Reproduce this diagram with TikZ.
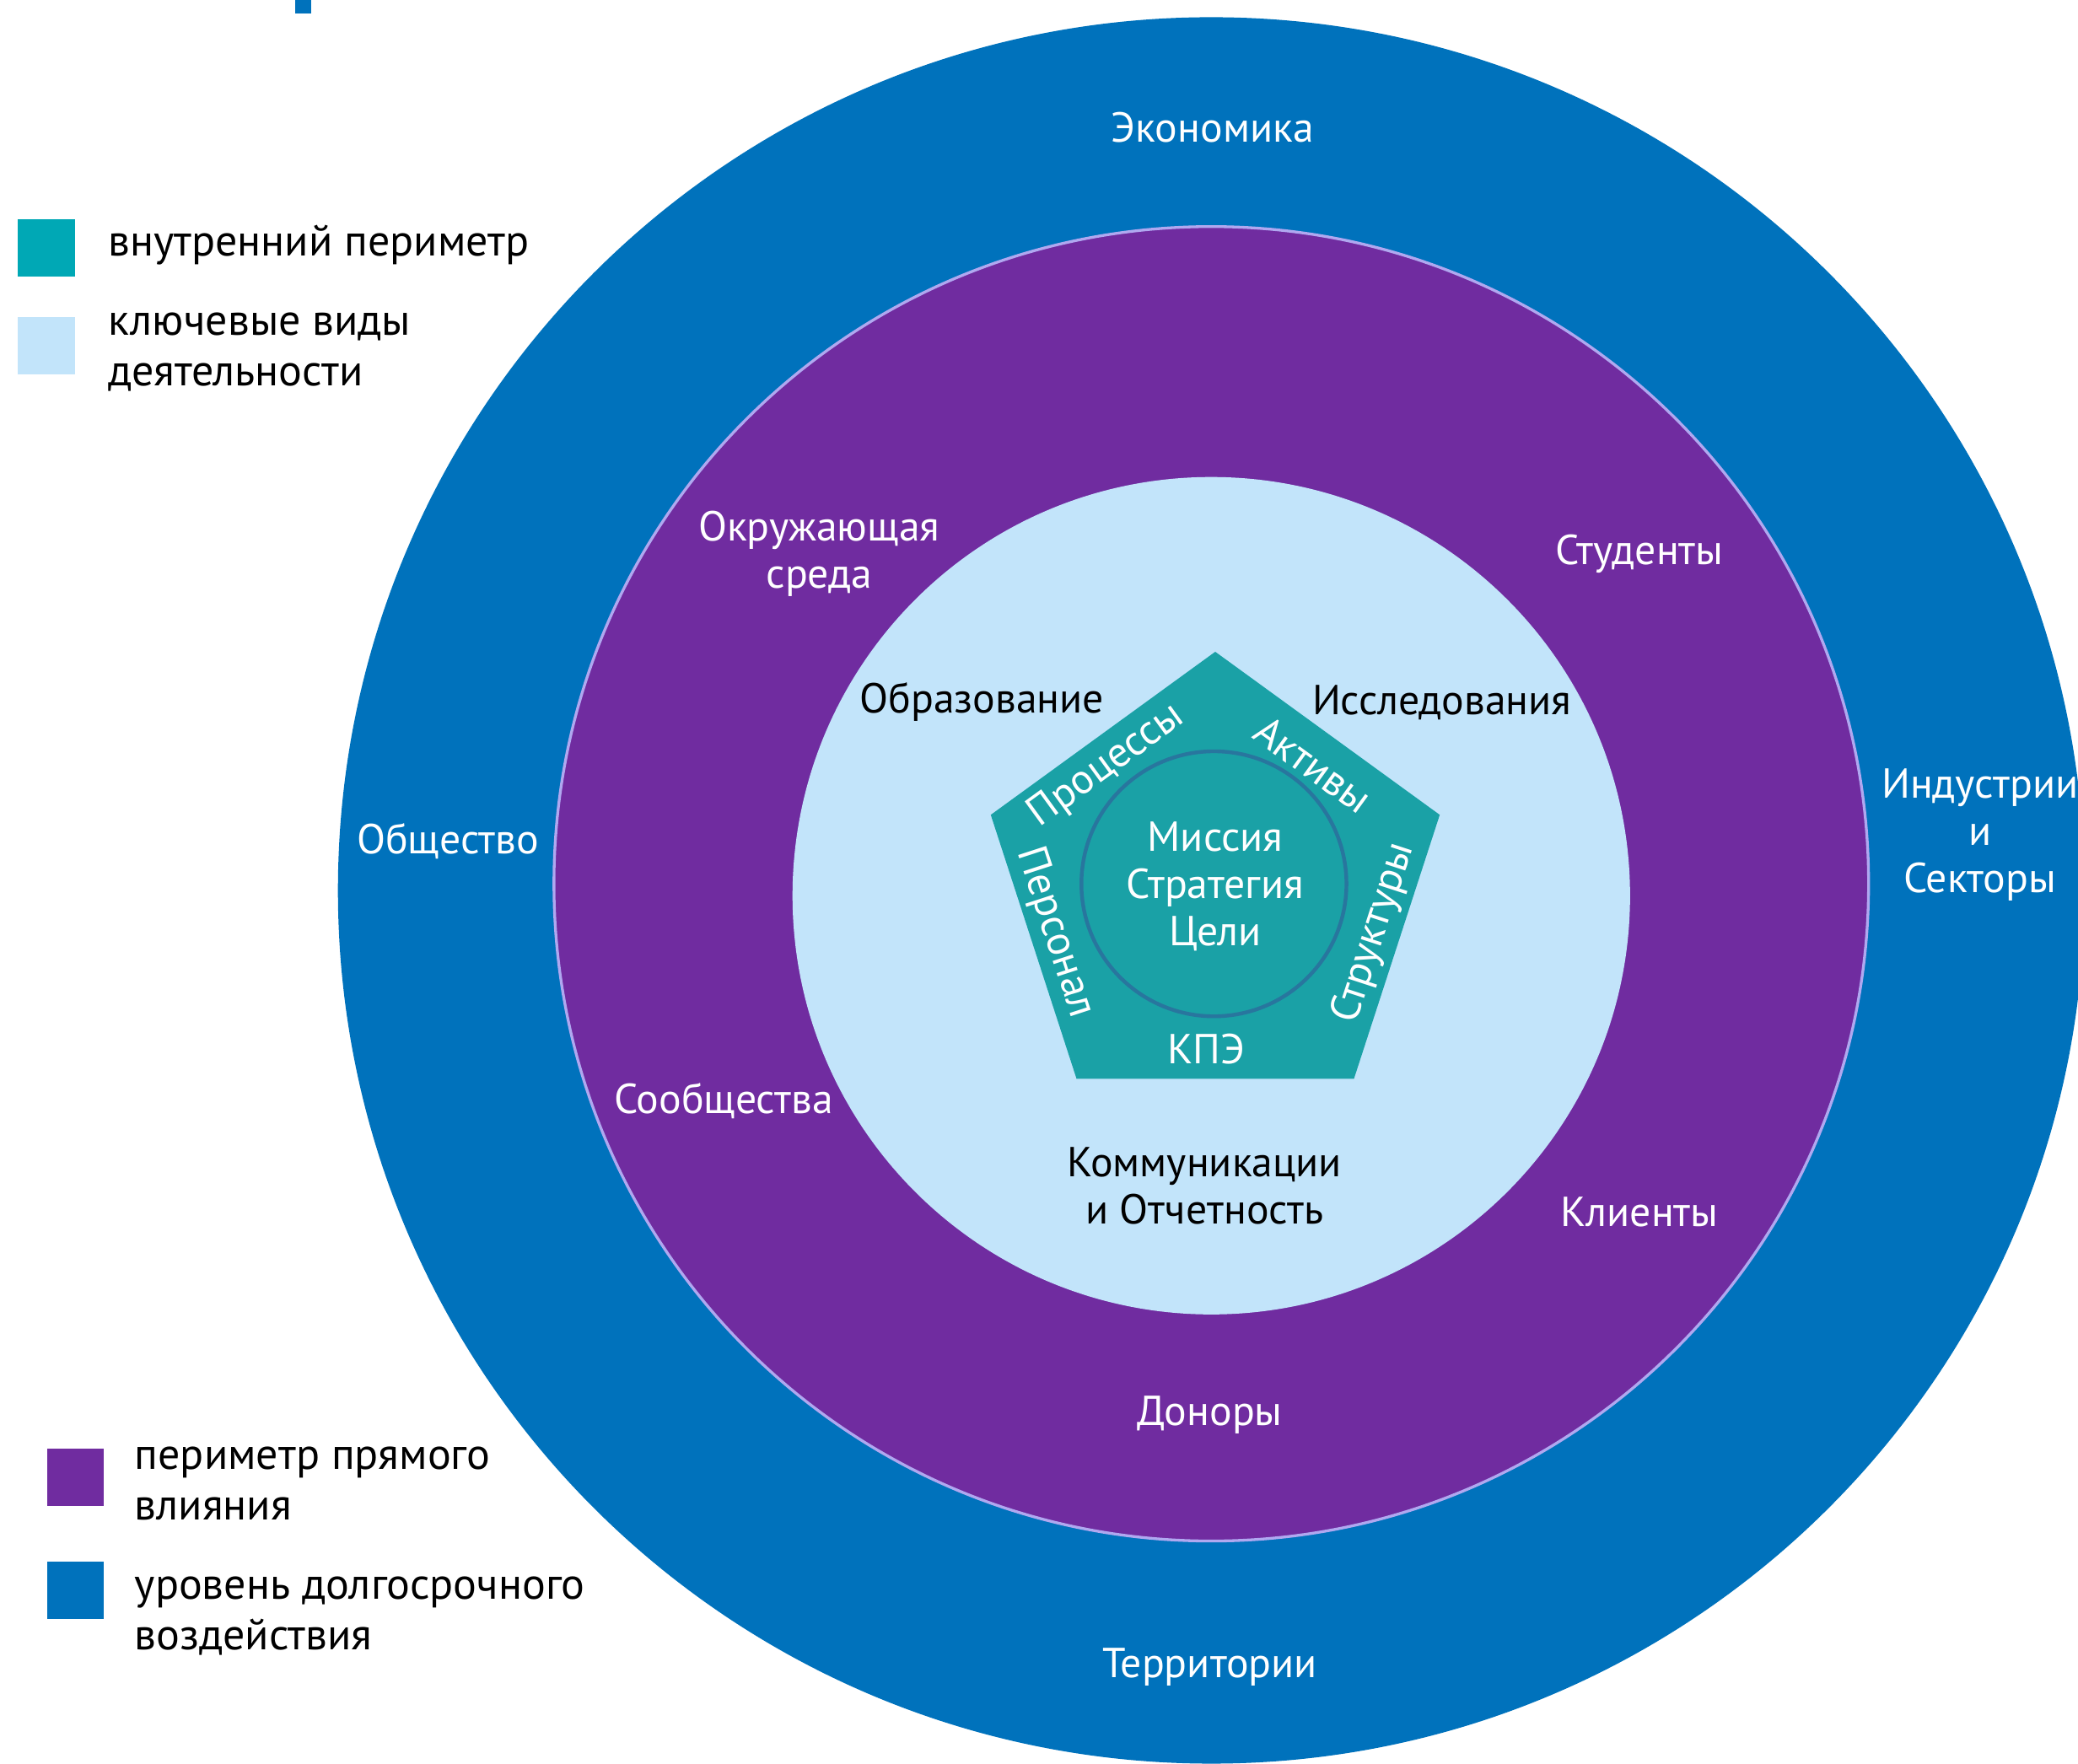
\documentclass[tikz,border=0pt]{standalone}
\usepackage{fontspec}
\setmainfont{PT Sans}
\usetikzlibrary{shapes.geometric}
\definecolor{outerblue}{RGB}{0,114,188}
\definecolor{ringpurple}{RGB}{112,44,160}
\definecolor{coreblue}{RGB}{194,228,250}
\definecolor{pentateal}{RGB}{26,161,166}
\definecolor{legendteal}{RGB}{0,168,181}
\definecolor{ringline}{RGB}{176,168,240}
\definecolor{hubline}{RGB}{40,118,158}

\begin{document}
\begin{tikzpicture}[
    x=0.01cm, y=-0.01cm,
    ringlabel/.style={text=white, font=\fontsize{9}{10.2}\selectfont, align=center, inner sep=0pt},
    corelabel/.style={text=black, font=\fontsize{9}{10.2}\selectfont, align=center, inner sep=0pt},
    edgelabel/.style={text=white, font=\fontsize{9}{10.2}\selectfont, inner sep=0pt},
    swatch/.style={fill=#1, minimum width=0.43cm, minimum height=0.43cm, inner sep=0pt},
    legendtext/.style={text=black, font=\fontsize{9.4}{10.8}\selectfont, align=left, anchor=base west, inner sep=0pt}
]
\useasboundingbox (0,0) rectangle (1568,1331);
\clip (0,0) rectangle (1568,1331);

% Rings
\fill[outerblue] (914,672) circle (659);
\filldraw[fill=ringpurple, draw=ringline, line width=0.6pt] (914,667) circle (496);
\fill[coreblue] (914,676) circle (316);
\fill[outerblue] (223,0) rectangle (235,10);

% Core
\node[regular polygon, regular polygon sides=5, minimum size=3.56cm, inner sep=0pt, fill=pentateal] (penta) at (917,670) {};
\draw[hubline, line width=0.8pt] (916,667) circle (100);
\node[ringlabel] (mission) at (917,669) {Миссия\\Стратегия\\Цели};

\node[edgelabel, rotate=36] (processes) at (835,578) {Процессы};
\node[edgelabel, rotate=-36] (assets) at (991,577) {Активы};
\node[edgelabel, rotate=-72] (staff) at (796,704) {Персонал};
\node[edgelabel, rotate=72] (structures) at (1037,704) {Структуры};
\node[edgelabel] (kpi) at (910,792) {КПЭ};

% Key activities
\node[corelabel] (education) at (741,530) {Образование};
\node[corelabel] (research) at (1088,530) {Исследования};
\node[corelabel] (reporting) at (909,895) {Коммуникации\\и Отчетность};

% Direct influence
\node[ringlabel] (environment) at (618,418) {Окружающая\\среда};
\node[ringlabel] (students) at (1237,418) {Студенты};
\node[ringlabel] (communities) at (546,831) {Сообщества};
\node[ringlabel] (clients) at (1237,915) {Клиенты};
\node[ringlabel] (donors) at (913,1068) {Доноры};

% Long-term impact
\node[ringlabel] (economy) at (915,96) {Экономика};
\node[ringlabel] (society) at (338,635) {Общество};
\node[ringlabel] (industries) at (1494,630) {Индустрии\\и\\Секторы};
\node[ringlabel] (territories) at (913,1258) {Территории};

% Legend
\node[swatch=legendteal] (swinner) at (35,187) {};
\node[legendtext] (lginner) at (81,193) {внутренний периметр};
\node[swatch=coreblue] (swcore) at (35,261) {};
\node[legendtext] (lgcore) at (81,291) {ключевые виды\\деятельности};
\node[swatch=ringpurple] (swdirect) at (57,1115) {};
\node[legendtext] (lgdirect) at (101,1147) {периметр прямого\\влияния};
\node[swatch=outerblue] (swlong) at (57,1200) {};
\node[legendtext] (lglong) at (101,1245) {уровень долгосрочного\\воздействия};

\end{tikzpicture}
\end{document}
